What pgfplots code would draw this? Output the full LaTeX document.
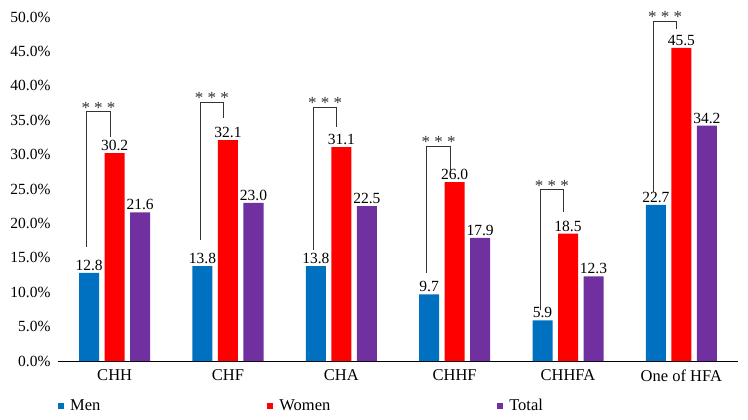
\documentclass[border=0pt]{standalone}
\usepackage{fontspec}
\setmainfont{Liberation Serif}
\usepackage{pgfplots}
\pgfplotsset{compat=1.18}
\definecolor{cMen}{HTML}{0070C0}
\definecolor{cWomen}{HTML}{FF0000}
\definecolor{cTotal}{HTML}{7030A0}
\newcommand{\f}{\fontsize{15.5bp}{18bp}\selectfont}
\newcommand{\st}{\fontsize{17bp}{19bp}\selectfont}
\begin{document}
\begin{tikzpicture}
\useasboundingbox (-58bp,-59bp) rectangle (690bp,361bp);
\begin{axis}[
  scale only axis, width=680bp, height=344bp,
  xmin=-0.5, xmax=5.5, ymin=0, ymax=50,
  axis x line*=bottom, axis y line*=left,
  y axis line style={draw=none},
  x axis line style={line width=1bp, black},
  major tick length=0pt,
  xtick={0,...,5},
  xticklabels={CHH,CHF,CHA,CHHF,CHHFA,One of HFA},
  ytick={0,5,...,50},
  yticklabel={\pgfmathprintnumber[fixed,fixed zerofill,precision=1]{\tick}\%},
  /pgf/number format/assume math mode=true,
  tick label style={font=\f},
  xticklabel style={font=\fontsize{16.5bp}{19bp}\selectfont, yshift=-5bp},
  yticklabel style={xshift=-4bp},
  legend columns=3,
  legend style={at={(axis description cs:0,0)}, anchor=west, yshift=-45bp, xshift=-3bp,
    draw=none, fill=none, font=\fontsize{16.5bp}{19bp}\selectfont,
    /tikz/every odd column/.append style={column sep=4bp},
    /tikz/every even column/.append style={column sep=165bp}},
  legend cell align=left,
  clip=false,
]
\addplot[ybar, bar width=20bp, bar shift=-25.5bp, fill=cMen, draw=none,
  nodes near coords={\pgfmathprintnumber[fixed,fixed zerofill,precision=1]{\pgfplotspointmeta}},
  nodes near coords style={font=\f, anchor=south, inner sep=2bp, xshift=-25.5bp},
  legend image code/.code={\fill[cMen] (0bp,-3bp) rectangle (6bp,3bp);}]
  coordinates {(0,12.8) (1,13.8) (2,13.8) (3,9.7) (4,5.9) (5,22.7)};
\addlegendentry{Men}
\addplot[ybar, bar width=20bp, bar shift=0bp, fill=cWomen, draw=none,
  nodes near coords={\pgfmathprintnumber[fixed,fixed zerofill,precision=1]{\pgfplotspointmeta}},
  nodes near coords style={font=\f, anchor=south, inner sep=2bp},
  legend image code/.code={\fill[cWomen] (0bp,-3bp) rectangle (6bp,3bp);}]
  coordinates {(0,30.2) (1,32.1) (2,31.1) (3,26.0) (4,18.5) (5,45.5)};
\addlegendentry{Women}
\addplot[ybar, bar width=20bp, bar shift=25.5bp, fill=cTotal, draw=none,
  nodes near coords={\pgfmathprintnumber[fixed,fixed zerofill,precision=1]{\pgfplotspointmeta}},
  nodes near coords style={font=\f, anchor=south, inner sep=2bp, xshift=25.5bp},
  legend image code/.code={\fill[cTotal] (0bp,-3bp) rectangle (6bp,3bp);}]
  coordinates {(0,21.6) (1,23.0) (2,22.5) (3,17.9) (4,12.3) (5,34.2)};
\addlegendentry{Total}
% significance brackets
\addplot[sharp plot, black!80, line width=0.9bp, forget plot, mark=none]
  coordinates {(-0.245,16.6) (-0.245,36.2) (-0.04,36.2) (-0.04,32.6)};
\addplot[sharp plot, black!80, line width=0.9bp, forget plot, mark=none]
  coordinates {(0.755,17.6) (0.755,37.6) (0.96,37.6) (0.96,35.3)};
\addplot[sharp plot, black!80, line width=0.9bp, forget plot, mark=none]
  coordinates {(1.755,16.2) (1.755,36.9) (1.96,36.9) (1.96,34.0)};
\addplot[sharp plot, black!80, line width=0.9bp, forget plot, mark=none]
  coordinates {(2.755,12.8) (2.755,31.2) (2.96,31.2) (2.96,27.8)};
\addplot[sharp plot, black!80, line width=0.9bp, forget plot, mark=none]
  coordinates {(3.755,7.4) (3.755,24.9) (3.96,24.9) (3.96,21.6)};
\addplot[sharp plot, black!80, line width=0.9bp, forget plot, mark=none]
  coordinates {(4.755,24.5) (4.755,49.4) (4.96,49.4) (4.96,48.3)};
\node[font=\st, anchor=base, inner sep=0pt, text=black!80] at (axis cs:-0.1425,36.0) {*\ *\ *};
\node[font=\st, anchor=base, inner sep=0pt, text=black!80] at (axis cs:0.8575,37.4) {*\ *\ *};
\node[font=\st, anchor=base, inner sep=0pt, text=black!80] at (axis cs:1.8575,36.7) {*\ *\ *};
\node[font=\st, anchor=base, inner sep=0pt, text=black!80] at (axis cs:2.8575,31.0) {*\ *\ *};
\node[font=\st, anchor=base, inner sep=0pt, text=black!80] at (axis cs:3.8575,24.7) {*\ *\ *};
\node[font=\st, anchor=base, inner sep=0pt, text=black!80] at (axis cs:4.8575,49.2) {*\ *\ *};
\end{axis}
\end{tikzpicture}
\end{document}
